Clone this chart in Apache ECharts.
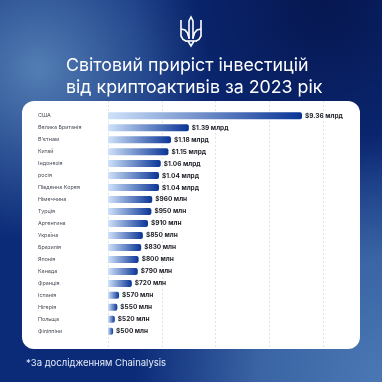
<!DOCTYPE html>
<html><head><meta charset="utf-8">
<script src="https://cdn.jsdelivr.net/npm/echarts@6/dist/echarts.min.js"></script>
<style>
html,body{margin:0;padding:0;}
#wrap{position:relative;width:382px;height:382px;overflow:hidden;
 background:
  radial-gradient(circle 191px at 325px 0px, rgba(5,18,70,0.8), rgba(5,18,70,0)),
  radial-gradient(circle 248px at 382px 382px, rgba(75,120,180,1), rgba(70,115,175,0.8) 50%, rgba(70,115,175,0)),
  radial-gradient(circle 172px at 38px 69px, rgba(95,140,190,0.85), rgba(95,140,190,0)),
  #0b2a78;}
#card{position:absolute;left:22px;top:101px;width:338px;height:248px;border-radius:12px;background:#fff;}
#c{position:absolute;left:0;top:0;width:382px;height:382px;}
</style>
</head><body><div id="wrap"><div id="card"></div><div id="c"></div></div>
<script>
const countries = ['США','Велика Британія','В\'єтнам','Китай','Індонезія','росія','Південна Корея','Німеччина','Турція','Аргентина','Україна','Бразилія','Японія','Канада','Франція','Іспанія','Нігерія','Польща','Філіппіни'];
const valuesBn = [9.36,1.39,1.18,1.15,1.06,1.04,1.04,0.96,0.95,0.91,0.85,0.83,0.80,0.79,0.72,0.57,0.55,0.52,0.50];
const titleLines = ['Світовий приріст інвестицій','від криптоактивів за 2023 рік'];
const footnote = '*За дослідженням Chainalysis';

function fmt(v){ return v >= 1 ? '$' + v.toFixed(2) + ' млрд' : '$' + Math.round(v*1000) + ' млн'; }

const chart = echarts.init(document.getElementById('c'), null, {renderer:'canvas'});
const FONT = 'Inter, "Noto Sans", sans-serif';
const tridentLines = [
  [[1,3],[1,19],[3,22.5],[6,24]],
  [[21,3],[21,19],[19,22.5],[16,24]],
  [[9,22],[9,4],[11,0],[13,4],[13,22]],
  [[1,12],[5,13],[7.5,16],[9,21]],
  [[21,12],[17,13],[14.5,16],[13,21]],
  [[5,24],[17,24]],
  [[8,24],[11,29],[14,24]]
];

chart.setOption({
  backgroundColor: 'transparent',
  textStyle: {fontFamily: FONT},
  title: {
    text: titleLines.join('\n'), left: 66, top: 55, padding: 0,
    textStyle: {color:'#ffffff', fontSize:17.8, fontWeight:400, lineHeight:21.5, fontFamily: FONT}
  },
  graphic: [
    {type:'group', z:5, x:180, y:17, children: tridentLines.map(pts => ({type:'polyline', shape:{points: pts}, style:{fill:null, stroke:'#ffffff', lineWidth:1.6}}))},
    {type:'text', z:5, x:26, y:363, style:{text: footnote, fill:'#e6edf7', fontSize:9.5, fontFamily: FONT, verticalAlign:'middle'}}
  ],
  grid: [
    {left:108, right:80, top:109.7, bottom:44.7, containLabel:false},
    {left:108, right:59, top:101, bottom:34, containLabel:false}
  ],
  xAxis: [
    {type:'value', gridIndex:0, min:0.44, max:2.72, show:false},
    {type:'value', gridIndex:1, min:0, max:4, interval:1, axisLine:{show:false}, axisTick:{show:false}, axisLabel:{show:false},
     splitLine:{show:true, lineStyle:{color:'#e1e4ea', type:[2,2], width:1}}}
  ],
  yAxis: [
    {type:'category', gridIndex:0, data: countries, inverse:true, axisLine:{show:false}, axisTick:{show:false},
     axisLabel:{color:'#444a55', fontSize:5.4, align:'left', margin:70, fontFamily: FONT}},
    {type:'category', gridIndex:1, data:['a'], show:false}
  ],
  series: [{
    type:'bar', xAxisIndex:0, yAxisIndex:0, data: valuesBn, barWidth:7, clip:true,
    itemStyle:{borderRadius:[0,2,2,0], color:{type:'linear',x:0,y:0,x2:1,y2:0,colorStops:[{offset:0,color:'#cfe2fa'},{offset:1,color:'#0a3596'}]}},
    label:{show:true, position:'right', distance:3, formatter: p => fmt(p.value), color:'#1c1f26', fontSize:6.5, fontWeight:'bold', fontFamily: FONT},
    animation:false
  }],
  animation:false
});
</script></body></html>
